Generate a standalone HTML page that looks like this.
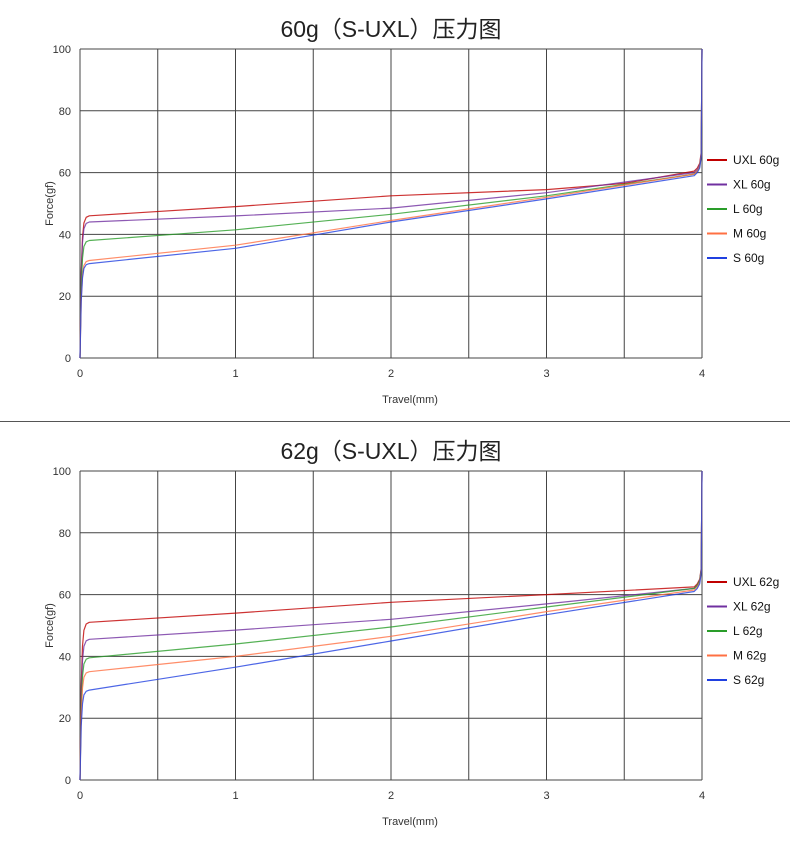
<!DOCTYPE html>
<html><head><meta charset="utf-8"><style>
html,body{margin:0;padding:0;background:#fff;}
svg{display:block;font-family:"Liberation Sans","Noto Sans CJK SC",sans-serif;}
</style></head><body>
<svg id="s" width="790" height="843" viewBox="0 0 790 843" xmlns="http://www.w3.org/2000/svg">
<line x1="0" y1="421.5" x2="790" y2="421.5" stroke="#555" stroke-width="1"/>
<g id="c1"></g><g id="c2"></g>
</svg>
<script>
const NS="http://www.w3.org/2000/svg";
function el(p,t,a,txt){const e=document.createElementNS(NS,t);for(const k in a)e.setAttribute(k,a[k]);if(txt!==undefined)e.textContent=txt;p.appendChild(e);return e;}
const cols=["#c00000","#7030a0","#2a9d2a","#ff7043","#2040e0"];
function chart(g,oy,title,suf,data){
  const X=t=>80+t*155.5, Y=f=>oy+358-f*3.09;
  el(g,"text",{x:391,y:oy+37,"text-anchor":"middle","font-size":"23",fill:"#222"},title);
  for(let i=0;i<=8;i++)el(g,"line",{x1:X(i*0.5),y1:Y(0),x2:X(i*0.5),y2:Y(100),stroke:"#444","stroke-width":1});
  for(let v=0;v<=100;v+=20){el(g,"line",{x1:80,y1:Y(v),x2:702,y2:Y(v),stroke:"#444","stroke-width":1});
    el(g,"text",{x:71,y:Y(v)+4,"text-anchor":"end","font-size":"11",fill:"#333"},v);}
  for(let i=0;i<=4;i++)el(g,"text",{x:X(i),y:oy+377,"text-anchor":"middle","font-size":"11",fill:"#333"},i);
  el(g,"text",{x:410,y:oy+403,"text-anchor":"middle","font-size":"11",fill:"#333"},"Travel(mm)");
  el(g,"text",{x:50,y:Y(50)+3,"text-anchor":"middle","font-size":"11",fill:"#333",transform:`rotate(-90 50 ${Y(50)})`},"Force(gf)");
  const names=["UXL","XL","L","M","S"];
  data.forEach((d,i)=>{
    const f=d[0], s=(d[1][1]-f)/0.95;
    let p=[[0,0],[0.008,f*0.6],[0.016,f*0.85],[0.025,f*0.95],[0.04,f*0.99],[0.06,f+0.01*s]];
    d.slice(1).forEach(q=>p.push(q));
    const L=d[d.length-1][1];
    p.push([3.97,L+1],[3.985,L+2.5],[3.995,L+6],[4,100]);
    el(g,"polyline",{points:p.map(q=>X(q[0]).toFixed(1)+","+Y(q[1]).toFixed(1)).join(" "),fill:"none",stroke:cols[i],"stroke-width":1.2,opacity:0.8,"stroke-linejoin":"round"});
    const ly=oy+160+i*24.5;
    el(g,"line",{x1:707,y1:ly,x2:727,y2:ly,stroke:cols[i],"stroke-width":2});
    el(g,"text",{x:733,y:ly+4,"font-size":"12",fill:"#111"},names[i]+" "+suf);
  });
}
chart(document.getElementById("c1"),0,"60g（S-UXL）压力图","60g",[
 [46,[1,49],[2,52.5],[3,54.5],[3.5,56.5],[3.95,60.5]],
 [44,[1,46],[2,48.5],[3,53.5],[3.95,60]],
 [38,[1,41.5],[2,46.5],[3,52.5],[3.95,59.5]],
 [31.5,[1,36.5],[2,44.5],[3,52],[3.95,59.5]],
 [30.5,[1,35.5],[2,44],[3,51.5],[3.95,59]]]);
chart(document.getElementById("c2"),422,"62g（S-UXL）压力图","62g",[
 [51,[1,54],[2,57.5],[3,60],[3.95,62.5]],
 [45.5,[1,48.5],[2,52],[3,57],[3.95,62]],
 [39.5,[1,44],[2,49.5],[3,56],[3.95,62]],
 [35,[1,40],[2,46.5],[3,54.5],[3.95,61.5]],
 [29,[1,36.5],[2,45],[3,53.5],[3.95,61]]]);
</script>
</body></html>
